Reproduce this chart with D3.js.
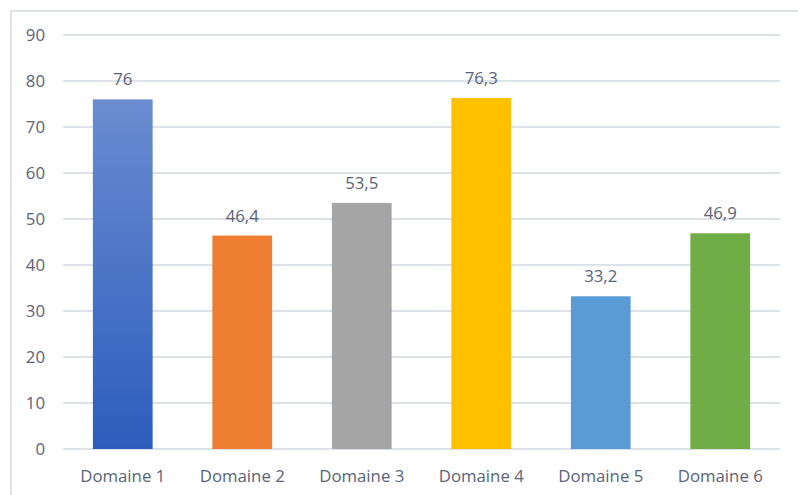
<!DOCTYPE html>
<html>
<head>
<meta charset="utf-8">
<script src="https://cdn.jsdelivr.net/npm/d3@7"></script>
<style>
  body { margin: 0; background: #fff; }
  text { font-family: "Open Sans", sans-serif; fill: #596378; }
</style>
</head>
<body>
<div id="container"></div>
<script>
/* DATA */
const categories = ["Domaine 1", "Domaine 2", "Domaine 3", "Domaine 4", "Domaine 5", "Domaine 6"]
const values = [76, 46.4, 53.5, 76.3, 33.2, 46.9]
const valueLabels = ["76", "46,4", "53,5", "76,3", "33,2", "46,9"]
const colors = ["url(#blueGrad)", "#ed7d31", "#a5a5a5", "#ffc000", "#5b9bd5", "#70ad47"]
const yTicks = [0, 10, 20, 30, 40, 50, 60, 70, 80, 90]

/* CONSTANTS */
const width = 798
const height = 495
const margin = { top: 35, bottom: 46, left: 63, right: 18 }
const fontSize = 16.8

const svg = d3.select('#container')
  .append('svg')
  .attr('width', width)
  .attr('height', height)

// gradient for first bar
const grad = svg.append('defs').append('linearGradient')
  .attr('id', 'blueGrad')
  .attr('x1', 0).attr('y1', 0).attr('x2', 0).attr('y2', 1)
grad.append('stop').attr('offset', '0%').attr('stop-color', '#6a8cd1')
grad.append('stop').attr('offset', '100%').attr('stop-color', '#2c5dbd')

// chart frame
svg.append('rect')
  .attr('x', 11).attr('y', 11)
  .attr('width', width).attr('height', height)
  .attr('fill', 'none')
  .attr('stroke', '#dde1e8')
  .attr('stroke-width', 2)

/* SCALES */
const xScale = d3.scaleBand()
  .domain(categories)
  .range([margin.left, width - margin.right])
  .paddingInner(0.5)
  .paddingOuter(0.25)

const yScale = d3.scaleLinear()
  .domain([0, 90])
  .range([height - margin.bottom, margin.top])

/* GRID */
svg.selectAll('line.grid')
  .data(yTicks)
  .join('line')
  .attr('class', 'grid')
  .attr('x1', margin.left)
  .attr('x2', width - margin.right)
  .attr('y1', d => yScale(d))
  .attr('y2', d => yScale(d))
  .attr('stroke', '#dde2e9')
  .attr('stroke-width', 2)

svg.selectAll('text.ytick')
  .data(yTicks)
  .join('text')
  .attr('class', 'ytick')
  .attr('x', 45)
  .attr('y', d => yScale(d) + 6)
  .attr('text-anchor', 'end')
  .attr('font-size', fontSize)
  .text(d => d)

/* BARS */
svg.selectAll('rect.bar')
  .data(values)
  .join('rect')
  .attr('class', 'bar')
  .attr('x', (d, i) => xScale(categories[i]))
  .attr('y', d => yScale(d))
  .attr('width', xScale.bandwidth())
  .attr('height', d => yScale(0) - yScale(d))
  .attr('fill', (d, i) => colors[i])

svg.selectAll('text.val')
  .data(values)
  .join('text')
  .attr('class', 'val')
  .attr('x', (d, i) => xScale(categories[i]) + xScale.bandwidth() / 2)
  .attr('y', d => yScale(d) - 14)
  .attr('text-anchor', 'middle')
  .attr('font-size', fontSize)
  .text((d, i) => valueLabels[i])

svg.selectAll('text.xlab')
  .data(categories)
  .join('text')
  .attr('class', 'xlab')
  .attr('x', d => xScale(d) + xScale.bandwidth() / 2)
  .attr('y', yScale(0) + 33)
  .attr('text-anchor', 'middle')
  .attr('font-size', fontSize)
  .text(d => d)
</script>
</body>
</html>
